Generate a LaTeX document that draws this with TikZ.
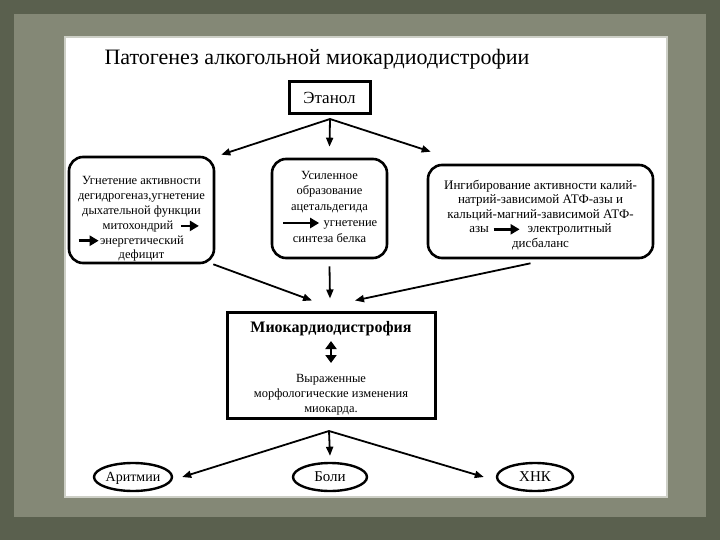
\documentclass[tikz,border=0pt]{standalone}
\usepackage{fontspec}
\setmainfont{Liberation Serif}
\usepackage{xcolor}
\usepackage{tikz}
\usetikzlibrary{arrows.meta,shapes.geometric}
\definecolor{olivedark}{RGB}{90,96,78}
\definecolor{olivepale}{RGB}{132,136,118}
\definecolor{panelrim}{RGB}{205,207,198}
\newcommand{\rarr}[1]{\tikz[baseline=-0.6ex]\draw[line width=2.8pt,-{Triangle[length=9pt,width=10pt]}](0pt,0pt)--(#1,0pt);}
\newcommand{\udarr}{\tikz[baseline=0pt]\draw[line width=2.6pt,{Triangle[length=8pt,width=11pt]}-{Triangle[length=8pt,width=11pt]}](0pt,0pt)--(0pt,22pt);}
\newcommand{\boxlines}[2]{\raisebox{-#1}[0pt][0pt]{\begin{tabular}{@{}c@{}}#2\end{tabular}}}
\newcommand{\ovaltext}[1]{\raisebox{-4.5pt}[0pt][0pt]{\makebox[0pt]{#1}}}

\begin{document}
\begin{tikzpicture}[x=1pt,y=-1pt,font=\fontsize{12.5}{14.8}\selectfont,
 rbox/.style={draw,line width=2.6pt,rounded corners=14pt,inner sep=0pt},
 hbox/.style={draw,line width=3pt,inner sep=0pt},
 oval/.style={draw,ellipse,line width=2.4pt,inner sep=0pt,font=\fontsize{15}{17}\selectfont},
 arr/.style={line width=1.8pt,-{Triangle[length=9pt,width=7pt]}}]
 \useasboundingbox (0,0) rectangle (720,540);
 \fill[olivedark] (0,0) rectangle (720,540);
 \fill[olivepale] (14,14) rectangle (706,517);
 \draw[panelrim,line width=2pt,fill=white] (65,37) rectangle (667,497);
 \node[anchor=base west,font=\fontsize{22}{26}\selectfont] (title) at (101,65) {Патогенез алкогольной миокардиодистрофии};
 \node[hbox,minimum width=81,minimum height=32,font=\fontsize{17}{19}\selectfont] (etanol) at (329.5,98) {Этанол};
 \node[rbox,minimum width=145,minimum height=106] (ugn) at (141.5,210) {\boxlines{12pt}{Угнетение активности\\дегидрогеназ,угнетение\\дыхательной функции\\\hspace*{20pt}митохондрий\ \ \rarr{18pt}\\\rarr{20pt}энергетический\hspace*{22pt}\\дефицит}};
 \node[rbox,minimum width=115,minimum height=99,font=\fontsize{12.5}{15.8}\selectfont] (acet) at (329.5,208.5) {\boxlines{2pt}{Усиленное\\образование\\ацетальдегида\\\rarr{36pt}\ угнетение\\синтеза белка}};
 \node[rbox,minimum width=225,minimum height=93,font=\fontsize{13}{14.5}\selectfont] (atf) at (540.5,211.5) {\boxlines{7pt}{Ингибирование активности калий-\\натрий-зависимой АТФ-азы и\\кальций-магний-зависимой АТФ-\\азы \rarr{26pt}\ \ электролитный\\дисбаланс}};
 \node[hbox,minimum width=208,minimum height=106] (myo) at (331,365) {\boxlines{7pt}{{\fontsize{16}{18}\selectfont\bfseries Миокардиодистрофия}\\[3pt]\udarr\\[5pt]Выраженные\\морфологические изменения\\миокарда.}};
 \node[oval,minimum width=78,minimum height=28,font=\fontsize{14}{16}\selectfont] (arit) at (133,477) {\ovaltext{Аритмии}};
 \node[oval,minimum width=74,minimum height=28] (boli) at (330,477) {\ovaltext{Боли}};
 \node[oval,minimum width=76,minimum height=28] (hnk) at (535,477) {\ovaltext{ХНК}};
 \coordinate (split1) at (330,119);
 \coordinate (split2) at (329,431);
 \draw[arr] (split1) -- ([shift={(6,-1)}]ugn.north east);
 \draw[arr] (split1) -- ([shift={(0,-11)}]acet.north);
 \draw[arr] (split1) -- ([shift={(4,-12)}]atf.north west);
 \draw[arr] ([shift={(-2,0)}]ugn.south east) -- ([shift={(-19,-10)}]myo.north);
 \draw[arr] ([shift={(0,7)}]acet.south) -- ([shift={(-1,-12)}]myo.north);
 \draw[arr] ([shift={(-10,4)}]atf.south) -- ([shift={(24,-10)}]myo.north);
 \draw[arr] (split2) -- ([shift={(9,0)}]arit.east);
 \draw[arr] (split2) -- ([shift={(0,-6)}]boli.north);
 \draw[arr] (split2) -- ([shift={(-12,0)}]hnk.west);
\end{tikzpicture}
\end{document}
